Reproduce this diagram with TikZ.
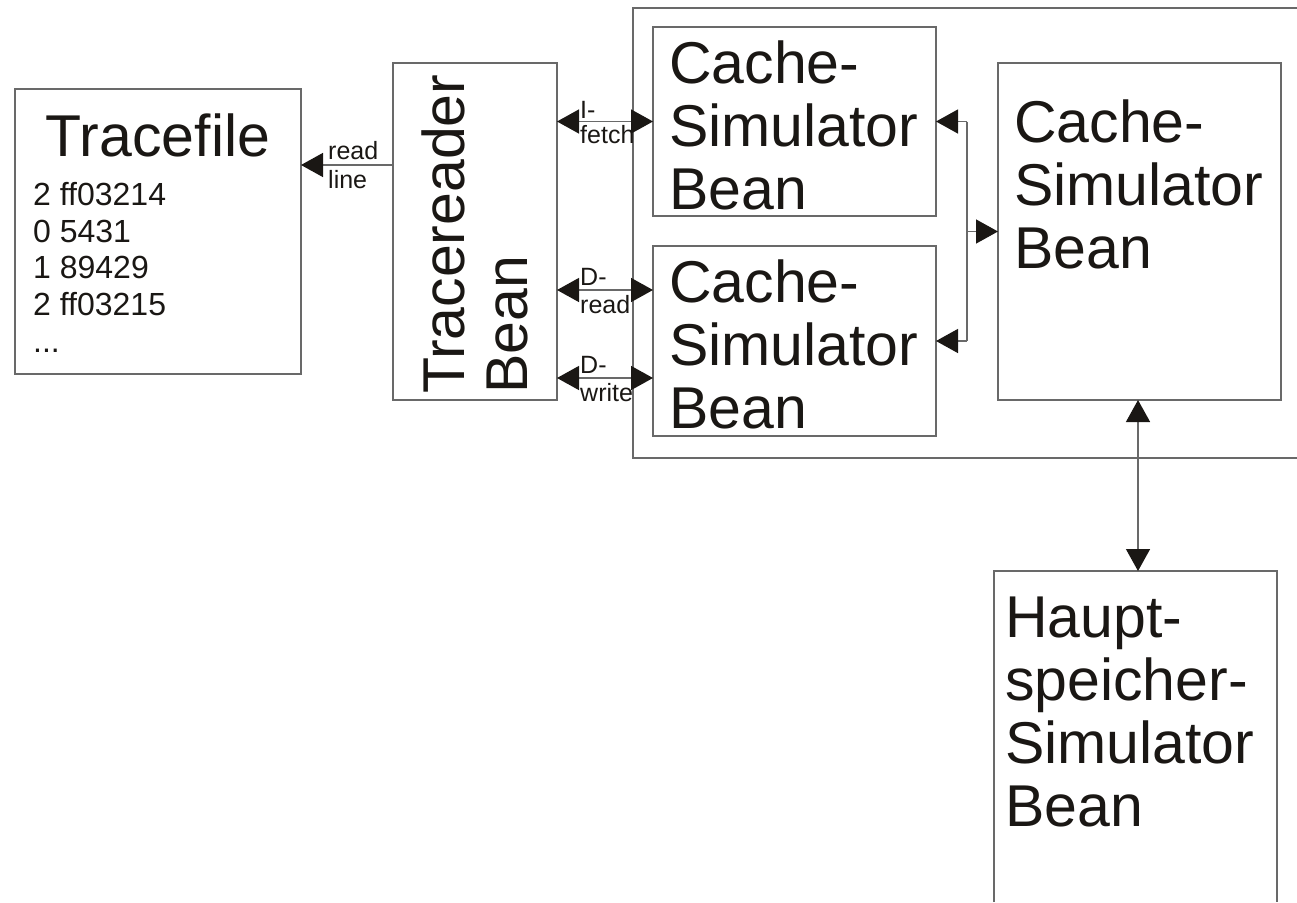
\documentclass[tikz,border=0pt]{standalone}
\usepackage{fontspec}
\setmainfont{Liberation Sans}
\usetikzlibrary{arrows.meta}
\definecolor{edge}{RGB}{105,105,105}
\definecolor{ink}{RGB}{26,23,20}
\tikzset{
  bigtri/.tip={Triangle[length=22pt,width=24pt,color=ink]},
}
\begin{document}
\begin{tikzpicture}[x=1pt,y=-1pt,
  box/.style={draw=edge, line width=1.2pt, inner sep=0pt, outer sep=0pt},
  title/.style={font=\fontsize{59}{63}\selectfont, text=ink, inner sep=0pt, align=left, anchor=north west},
  listing/.style={font=\fontsize{32}{36.7}\selectfont, text=ink, inner sep=0pt, align=left, anchor=north west},
  tag/.style={font=\fontsize{25}{28}\selectfont, text=ink, inner sep=0pt, anchor=base west},
  link/.style={draw=edge, line width=1.4pt},
]
\useasboundingbox (0,0) rectangle (1297,902);

% enclosing frame of the cache simulators (runs off to the right)
\draw[box] (1297,8) -- (633,8) -- (633,458) -- (1297,458);

% boxes
\node[box, minimum width=286, minimum height=285] (tf) at (158,231.5) {};
\node[box, minimum width=164, minimum height=337] (tr) at (475,231.5) {};
\node[box, minimum width=283, minimum height=189] (c1) at (794.5,121.5) {};
\node[box, minimum width=283, minimum height=190] (c2) at (794.5,341) {};
\node[box, minimum width=283, minimum height=337] (cb) at (1139.5,231.5) {};
% main memory box, open at the lower edge
\draw[box] (994,902) -- (994,571) -- (1277,571) -- (1277,902);
\coordinate (hs) at (1138,571);

% box texts
\node[title, anchor=north] (tft) at (158,114) {Tracefile};
\node[listing] (tfl) at (33,182) {2 ff03214\\0 5431\\1 89429\\2 ff03215\\...};
\node[title, rotate=90] (trt) at (422,394) {Tracereader\\Bean};
\node[title] (c1t) at ([shift={(16,14)}]c1.north west) {Cache-\\Simulator\\Bean};
\node[title] (c2t) at ([shift={(16,14)}]c2.north west) {Cache-\\Simulator\\Bean};
\node[title] (cbt) at ([shift={(16,37)}]cb.north west) {Cache-\\Simulator\\Bean};
\node[title] (hst) at (1005,597) {Haupt-\\speicher-\\Simulator\\Bean};

% tracereader -> tracefile
\coordinate (yr) at (0,165);
\draw[link, -bigtri] (tr.west |- yr) -- (tf.east |- yr);
\node[tag] (rl1) at (328,159) {read};
\node[tag] (rl2) at (328,188) {line};

% tracereader <-> cache simulators
\coordinate (yi) at (0,121.5);
\coordinate (yd1) at (0,290);
\coordinate (yd2) at (0,378);
\draw[link, bigtri-bigtri] (tr.east |- yi) -- (c1.west |- yi);
\draw[link, bigtri-bigtri] (tr.east |- yd1) -- (c2.west |- yd1);
\draw[link, bigtri-bigtri] (tr.east |- yd2) -- (c2.west |- yd2);
\node[tag] (l1a) at (580,118) {I-};
\node[tag] (l1b) at (580,143) {fetch};
\node[tag] (l2a) at (580,285) {D-};
\node[tag] (l2b) at (580,313) {read};
\node[tag] (l3a) at (580,373) {D-};
\node[tag] (l3b) at (580,401) {write};

% first-level caches <-> second-level cache
\coordinate (j1) at (967,121.5);
\coordinate (j2) at (967,341);
\coordinate (jm) at (967,231.5);
\draw[link] (j1) -- (j2);
\draw[link, -bigtri] (j1) -- (c1.east |- j1);
\draw[link, -bigtri] (j2) -- (c2.east |- j2);
\draw[link, -bigtri] (jm) -- (cb.west |- jm);

% second-level cache <-> main memory
\draw[link, bigtri-bigtri] (cb.south -| hs) -- (hs);
\end{tikzpicture}
\end{document}
